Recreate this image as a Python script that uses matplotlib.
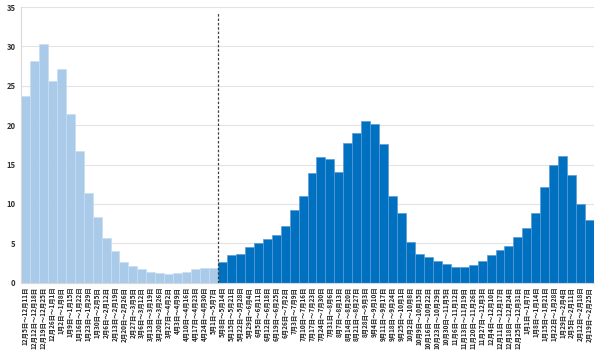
import numpy as np
import matplotlib
matplotlib.use("Agg")
import matplotlib.pyplot as plt

plt.rcParams['font.family'] = ['Noto Sans CJK JP', 'DejaVu Sans']

# week start dates (month, day) and weekly values
week_starts = [
    (12, 5), (12, 12), (12, 19), (12, 26), (1, 2), (1, 9), (1, 16), (1, 23), (1, 30),
    (2, 6), (2, 13), (2, 20), (2, 27), (3, 6), (3, 13), (3, 20), (3, 27), (4, 3),
    (4, 10), (4, 17), (4, 24), (5, 1),
    (5, 8), (5, 15), (5, 22), (5, 29), (6, 5), (6, 12), (6, 19), (6, 26), (7, 3),
    (7, 10), (7, 17), (7, 24), (7, 31), (8, 7), (8, 14), (8, 21), (8, 28), (9, 4),
    (9, 11), (9, 18), (9, 25), (10, 2), (10, 9), (10, 16), (10, 23), (10, 30),
    (11, 6), (11, 13), (11, 20), (11, 27), (12, 4), (12, 11), (12, 18), (12, 25),
    (1, 1), (1, 8), (1, 15), (1, 22), (1, 29), (2, 5), (2, 12), (2, 19),
]
week_ends = [
    (12, 11), (12, 18), (12, 25), (1, 1), (1, 8), (1, 15), (1, 22), (1, 29), (2, 5),
    (2, 12), (2, 19), (2, 26), (3, 5), (3, 12), (3, 19), (3, 26), (4, 2), (4, 9),
    (4, 16), (4, 23), (4, 30), (5, 7),
    (5, 14), (5, 21), (5, 28), (6, 4), (6, 11), (6, 18), (6, 25), (7, 2), (7, 9),
    (7, 16), (7, 23), (7, 30), (8, 6), (8, 13), (8, 20), (8, 27), (9, 3), (9, 10),
    (9, 17), (9, 24), (10, 1), (10, 8), (10, 15), (10, 22), (10, 29), (11, 5),
    (11, 12), (11, 19), (11, 26), (12, 3), (12, 10), (12, 17), (12, 24), (12, 31),
    (1, 7), (1, 14), (1, 21), (1, 28), (2, 4), (2, 11), (2, 18), (2, 25),
]

before_values = [23.7, 28.2, 30.3, 25.6, 27.2, 21.4, 16.7, 11.4, 8.3, 5.7, 4.06,
                 2.6, 2.16, 1.7, 1.3, 1.2, 1.1, 1.27, 1.4, 1.73, 1.8, 1.8]
after_values = [2.57, 3.5, 3.63, 4.56, 5.1, 5.6, 6.1, 7.2, 9.2, 11.0, 13.9, 15.9,
                15.7, 14.1, 17.8, 19.0, 20.5, 20.1, 17.6, 11.0, 8.8,
                5.2, 3.7, 3.25, 2.8, 2.4, 2.0, 1.95, 2.3, 2.7, 3.5, 4.1, 4.6,
                5.8, 7.0, 8.9, 12.2, 14.9, 16.1, 13.7, 10.0, 7.9]

labels = ["%d月%d日～%d月%d日" % (a[0], a[1], b[0], b[1])
          for a, b in zip(week_starts, week_ends)]

light_blue = '#A9CAE9'
dark_blue = '#0070C0'

fig = plt.figure(figsize=(6, 3.56), dpi=100)
ax = fig.add_axes([0.035, 0.206, 0.955, 0.774])

n1 = len(before_values)
n2 = len(after_values)
x1 = np.arange(n1)
x2 = np.arange(n1, n1 + n2)

ax.bar(x1, before_values, width=1.0, color=light_blue, edgecolor='#C9DDF1', linewidth=0.5, zorder=2)
ax.bar(x2, after_values, width=1.0, color=dark_blue, edgecolor='#5B9BD5', linewidth=0.5, zorder=2)

# divider between the two periods
ax.plot([n1 - 0.5, n1 - 0.5], [0, 34.3], color='#404040', linestyle=(0, (2, 1.5)), linewidth=0.9, zorder=3)

ax.set_xlim(-0.5, n1 + n2 - 0.5)
ax.set_ylim(0, 35)
ax.set_yticks(np.arange(0, 36, 5))
ax.yaxis.grid(True, color='#E3E3E3', linewidth=0.8, zorder=0)
ax.set_axisbelow(True)

ax.set_xticks(np.arange(n1 + n2))
ax.set_xticklabels(labels, rotation=90, fontsize=4.6, fontweight='bold', color='#222222')
ax.tick_params(axis='x', length=0, pad=3)
ax.tick_params(axis='y', length=0, labelsize=5.5, labelcolor='#333333', pad=4)
for t in ax.get_yticklabels():
    t.set_fontweight('bold')

for s in ['top', 'right']:
    ax.spines[s].set_visible(False)
ax.spines['left'].set_color('#D9D9D9')
ax.spines['bottom'].set_color('#D9D9D9')

fig.savefig('out.png', dpi=100)
